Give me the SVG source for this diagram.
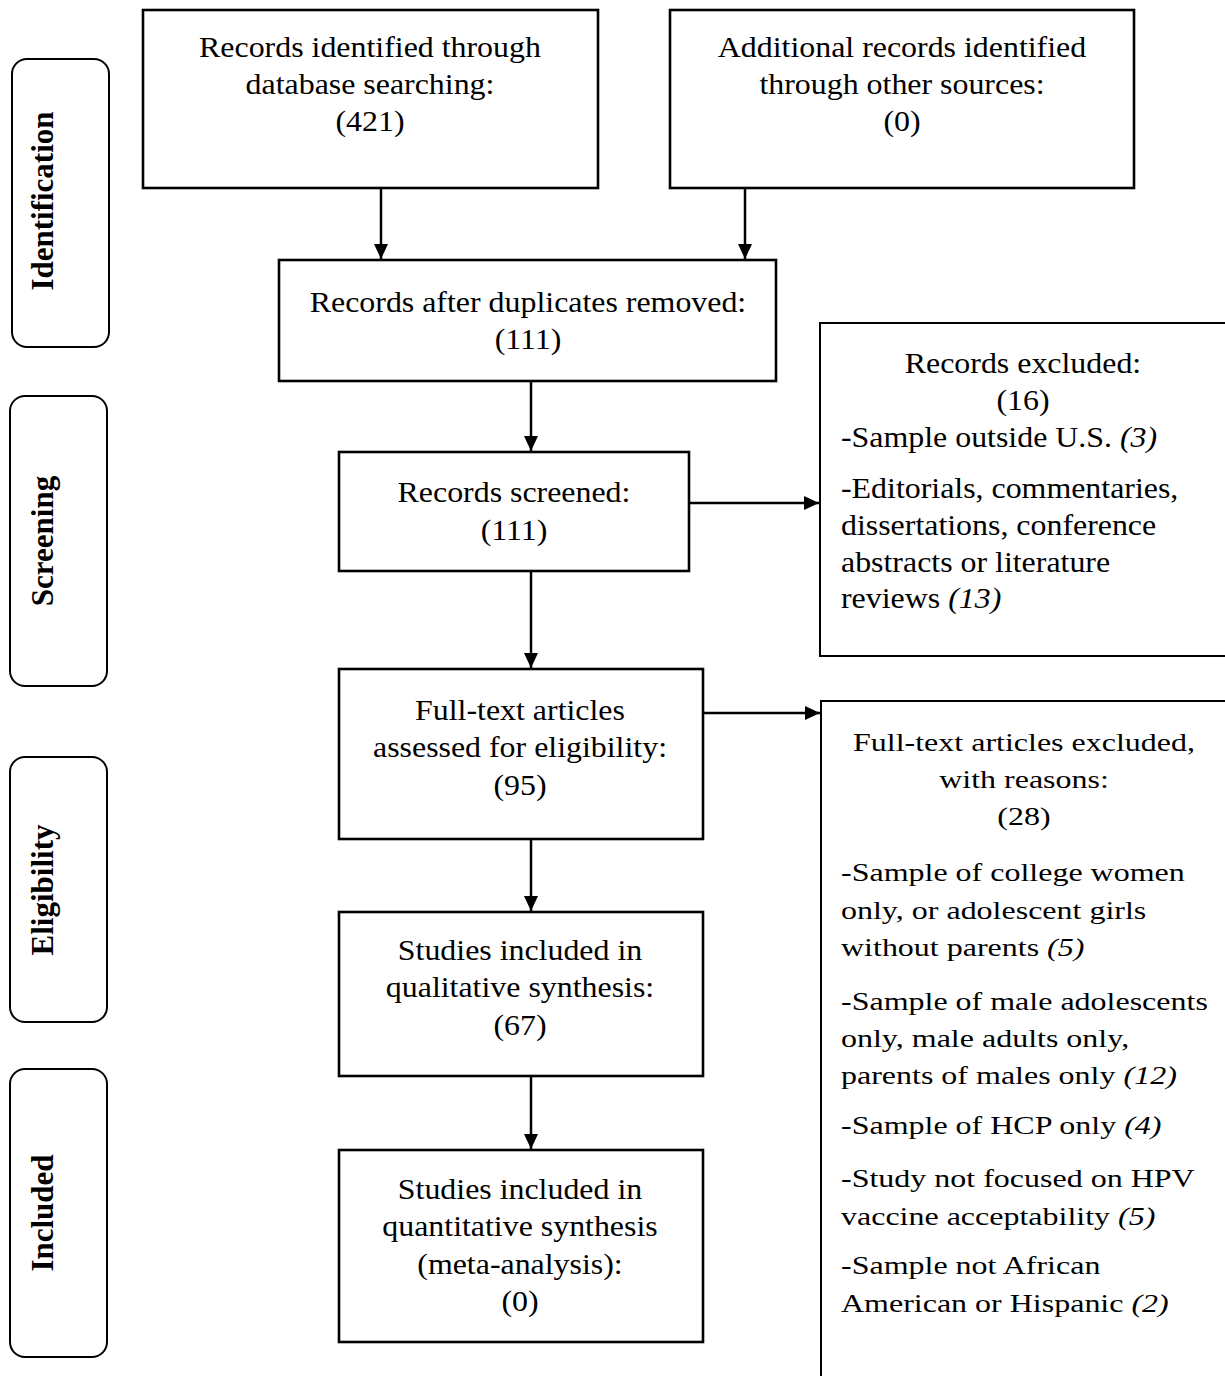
<svg xmlns="http://www.w3.org/2000/svg" width="1225" height="1376" viewBox="0 0 1225 1376">
<style>
  .box{fill:#fff;stroke:#000;stroke-width:2.6}
  .xbox{fill:#fff;stroke:#000;stroke-width:2}
  .phase{fill:#fff;stroke:#000;stroke-width:2}
  .t{font-family:"Liberation Serif","Times New Roman",serif;font-size:29px;fill:#000}
  .s{font-family:"Liberation Serif","Times New Roman",serif;font-size:25px;fill:#000}
  .c{text-anchor:middle}
  .ph{font-family:"Liberation Serif","Times New Roman",serif;font-size:31px;font-weight:bold;text-anchor:middle;fill:#000}
  .i{font-style:italic}
  .conn line{stroke:#000;stroke-width:2.5}
</style>
<defs>
  <marker id="ah" markerUnits="userSpaceOnUse" markerWidth="16" markerHeight="14" refX="15" refY="7" orient="auto">
    <path d="M0,0 L15,7 L0,14 Z" fill="#000"/>
  </marker>
</defs>
<rect width="1225" height="1376" fill="#fff"/>

<g id="phase-identification">
  <rect class="phase" x="12" y="59" width="97" height="288" rx="15"/>
  <text class="ph" transform="translate(53,201) rotate(-90)">Identification</text>
</g>
<g id="phase-screening">
  <rect class="phase" x="10" y="396" width="97" height="290" rx="15"/>
  <text class="ph" transform="translate(53,541) rotate(-90)">Screening</text>
</g>
<g id="phase-eligibility">
  <rect class="phase" x="10" y="757" width="97" height="265" rx="15"/>
  <text class="ph" transform="translate(53,890) rotate(-90)">Eligibility</text>
</g>
<g id="phase-included">
  <rect class="phase" x="10" y="1069" width="97" height="288" rx="15"/>
  <text class="ph" transform="translate(53,1213) rotate(-90)">Included</text>
</g>

<g id="n-database">
  <rect class="box" x="143" y="10" width="455" height="178"/>
  <text class="t c" transform="translate(370,0) scale(1.1,1)"><tspan x="0" y="57">Records identified through</tspan><tspan x="0" y="94">database searching:</tspan><tspan x="0" y="131">(421)</tspan></text>
</g>
<g id="n-other">
  <rect class="box" x="670" y="10" width="464" height="178"/>
  <text class="t c" transform="translate(902,0) scale(1.1,1)"><tspan x="0" y="57">Additional records identified</tspan><tspan x="0" y="94">through other sources:</tspan><tspan x="0" y="131">(0)</tspan></text>
</g>
<g id="n-dedup">
  <rect class="box" x="279" y="260" width="497" height="121"/>
  <text class="t c" transform="translate(528,0) scale(1.1,1)"><tspan x="0" y="312">Records after duplicates removed:</tspan><tspan x="0" y="349">(111)</tspan></text>
</g>
<g id="n-screened">
  <rect class="box" x="339" y="452" width="350" height="119"/>
  <text class="t c" transform="translate(514,0) scale(1.1,1)"><tspan x="0" y="502">Records screened:</tspan><tspan x="0" y="540">(111)</tspan></text>
</g>
<g id="n-excluded">
  <rect class="xbox" x="820" y="323" width="420" height="333"/>
  <text class="t c" transform="translate(1023,0) scale(1.1,1)"><tspan x="0" y="373">Records excluded:</tspan><tspan x="0" y="410">(16)</tspan></text>
  <text class="t" transform="translate(841,0) scale(1.1,1)"><tspan x="0" y="447">-Sample outside U.S. <tspan class="i">(3)</tspan></tspan><tspan x="0" y="498">-Editorials, commentaries,</tspan><tspan x="0" y="535">dissertations, conference</tspan><tspan x="0" y="572">abstracts or literature</tspan><tspan x="0" y="608">reviews <tspan class="i">(13)</tspan></tspan></text>
</g>
<g id="n-fulltext">
  <rect class="box" x="339" y="669" width="364" height="170"/>
  <text class="t c" transform="translate(520,0) scale(1.1,1)"><tspan x="0" y="720">Full-text articles</tspan><tspan x="0" y="757">assessed for eligibility:</tspan><tspan x="0" y="795">(95)</tspan></text>
</g>
<g id="n-ft-excluded">
  <rect class="xbox" x="821" y="701" width="420" height="700"/>
  <text class="s c" transform="translate(1024,0) scale(1.28,1)"><tspan x="0" y="751">Full-text articles excluded,</tspan><tspan x="0" y="788">with reasons:</tspan><tspan x="0" y="825">(28)</tspan></text>
  <text class="s" transform="translate(841,0) scale(1.28,1)"><tspan x="0" y="881">-Sample of college women</tspan><tspan x="0" y="919">only, or adolescent girls</tspan><tspan x="0" y="956">without parents <tspan class="i">(5)</tspan></tspan><tspan x="0" y="1010">-Sample of male adolescents</tspan><tspan x="0" y="1047">only, male adults only,</tspan><tspan x="0" y="1084">parents of males only <tspan class="i">(12)</tspan></tspan><tspan x="0" y="1134">-Sample of HCP only <tspan class="i">(4)</tspan></tspan><tspan x="0" y="1187">-Study not focused on HPV</tspan><tspan x="0" y="1225">vaccine acceptability <tspan class="i">(5)</tspan></tspan><tspan x="0" y="1274">-Sample not African</tspan><tspan x="0" y="1312">American or Hispanic <tspan class="i">(2)</tspan></tspan></text>
</g>
<g id="n-qualitative">
  <rect class="box" x="339" y="912" width="364" height="164"/>
  <text class="t c" transform="translate(520,0) scale(1.1,1)"><tspan x="0" y="960">Studies included in</tspan><tspan x="0" y="997">qualitative synthesis:</tspan><tspan x="0" y="1035">(67)</tspan></text>
</g>
<g id="n-quantitative">
  <rect class="box" x="339" y="1150" width="364" height="192"/>
  <text class="t c" transform="translate(520,0) scale(1.1,1)"><tspan x="0" y="1199">Studies included in</tspan><tspan x="0" y="1236">quantitative synthesis</tspan><tspan x="0" y="1274">(meta-analysis):</tspan><tspan x="0" y="1311">(0)</tspan></text>
</g>

<g id="connectors" class="conn">
  <line x1="381" y1="189" x2="381" y2="259" marker-end="url(#ah)"/>
  <line x1="745" y1="189" x2="745" y2="259" marker-end="url(#ah)"/>
  <line x1="531" y1="382" x2="531" y2="451" marker-end="url(#ah)"/>
  <line x1="531" y1="572" x2="531" y2="668" marker-end="url(#ah)"/>
  <line x1="531" y1="840" x2="531" y2="911" marker-end="url(#ah)"/>
  <line x1="531" y1="1077" x2="531" y2="1149" marker-end="url(#ah)"/>
  <line x1="690" y1="503" x2="819" y2="503" marker-end="url(#ah)"/>
  <line x1="704" y1="713" x2="820" y2="713" marker-end="url(#ah)"/>
</g>
</svg>
